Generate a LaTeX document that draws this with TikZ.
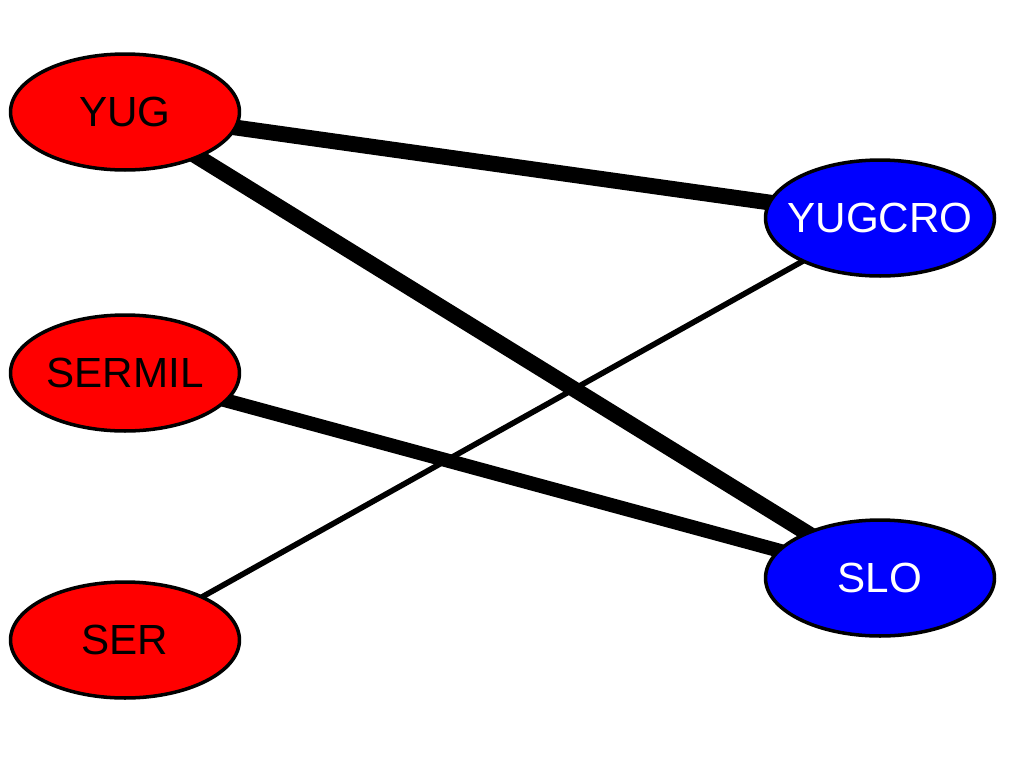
\documentclass[tikz,border=0pt]{standalone}
\usepackage{fontspec}
\setmainfont{Liberation Sans}
\usetikzlibrary{shapes.geometric,backgrounds}
\definecolor{redpart}{RGB}{255,0,0}
\definecolor{bluepart}{RGB}{0,0,255}
\tikzset{
  party/.style={ellipse,draw,line width=2pt,minimum width=4.58cm,minimum height=2.32cm,inner xsep=-0.25cm,inner ysep=0pt,font=\fontsize{24}{28}\selectfont},
  left party/.style={party,fill=redpart,text=black},
  right party/.style={party,fill=bluepart,text=white},
  heavy/.style={line width=9pt},
  medium/.style={line width=8pt},
  light/.style={line width=3.2pt},
}
\begin{document}
\begin{tikzpicture}[x=0.02cm,y=-0.02cm]
  \useasboundingbox (0,0) rectangle (1024,768);
  % parties
  \node[left party] (yug) at (125,112) {YUG};
  \node[left party] (sermil) at (125,373) {SERMIL};
  \node[left party] (ser) at (125,640) {SER};
  \node[right party] (yugcro) at (880,218) {YUGCRO};
  \node[right party] (slo) at (880,578) {SLO};
  % ties, behind the parties
  \begin{pgfonlayer}{background}
    \draw[heavy] (yug.center) -- (yugcro.center);
    \draw[heavy] (yug.center) -- (slo.center);
    \draw[medium] (sermil.center) -- (slo.center);
    \draw[light] (ser.center) -- (yugcro.center);
  \end{pgfonlayer}
\end{tikzpicture}
\end{document}
